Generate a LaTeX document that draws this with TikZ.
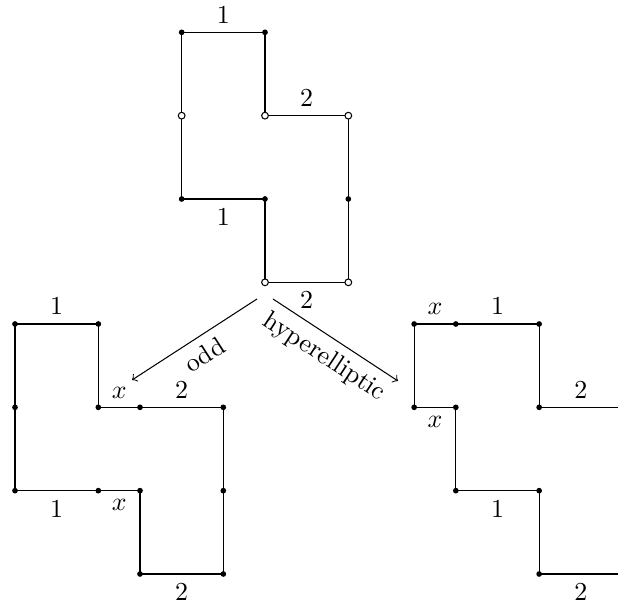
\documentclass[tikz,border=0pt]{standalone}
\usetikzlibrary{positioning}
\begin{document}
\begin{tikzpicture}
                    [x=1.13cm, y=1.13cm,
                    full/.style={fill=black},
                    hole/.style={fill=white, draw=black},
                    ar/.style={->}]
                    \useasboundingbox (-0.18,-3.348) rectangle (7.236,3.888);

                    % the starting surface
                    \draw (2,3.5) -- (3,3.5) -- (3,2.5) -- (4,2.5) -- (4,0.5)
                        -- (3,0.5) -- (3,1.5) -- (2,1.5) -- cycle;
                    \foreach \p in {(2,3.5),(3,3.5),(4,1.5),(3,1.5),(2,1.5)}
                        \fill[full] \p circle (1.1pt);
                    \foreach \p in {(2,2.5),(3,2.5),(4,2.5),(4,0.5),(3,0.5)}
                        \filldraw[hole] \p circle (1.3pt);
                    \node[above] (ta) at (2.5,3.5) {1};
                    \node[above] (tb) at (3.5,2.5) {2};
                    \node[below] (tc) at (2.5,1.5) {1};
                    \node[below] (td) at (3.5,0.5) {2};

                    % odd component
                    \draw (0,0) -- (1,0) -- (1,-1) -- (2.5,-1) -- (2.5,-3)
                        -- (1.5,-3) -- (1.5,-2) -- (0,-2) -- cycle;
                    \foreach \p in {(0,0),(1,0),(1,-1),(1.5,-1),(2.5,-1),(2.5,-2),
                        (2.5,-3),(1.5,-3),(1.5,-2),(1,-2),(0,-2),(0,-1)}
                        \fill[full] \p circle (1.1pt);
                    \node[above] (oa) at (0.5,0) {1};
                    \node[above] (ox) at (1.25,-1) {$x$};
                    \node[above] (ob) at (2,-1) {2};
                    \node[below] (oc) at (0.5,-2) {1};
                    \node[below] (oy) at (1.25,-2) {$x$};
                    \node[below] (od) at (2,-3) {2};

                    % hyperelliptic component
                    \begin{scope}[xshift=4.79*1.13cm]
                    \draw (2.446,-1) -- (1.5,-1) -- (1.5,0) -- (0,0) -- (0,-1)
                        -- (0.5,-1) -- (0.5,-2) -- (1.5,-2) -- (1.5,-3) -- (2.446,-3);
                    \foreach \p in {(0,0),(0.5,0),(1.5,0),(1.5,-1),(0,-1),(0.5,-1),
                        (0.5,-2),(1.5,-2),(1.5,-3)}
                        \fill[full] \p circle (1.1pt);
                    \node[above] (hx) at (0.25,0) {$x$};
                    \node[above] (ha) at (1,0) {1};
                    \node[above] (hb) at (2,-1) {2};
                    \node[below] (hy) at (0.25,-1) {$x$};
                    \node[below] (hc) at (1,-2) {1};
                    \node[below] (hd) at (2,-3) {2};
                    \end{scope}

                    % the two ways down
                    \coordinate (oddfrom) at (2.904,0.30);
                    \coordinate (oddto) at (1.404,-0.672);
                    \coordinate (hypfrom) at (3.096,0.30);
                    \coordinate (hypto) at (4.596,-0.684);
                    \draw[ar] (oddfrom) -- node[sloped, below] (oddlab) {odd} (oddto);
                    \draw[ar] (hypfrom) -- node[sloped, below] (hyplab) {hyperelliptic} (hypto);
                \end{tikzpicture}
\end{document}
